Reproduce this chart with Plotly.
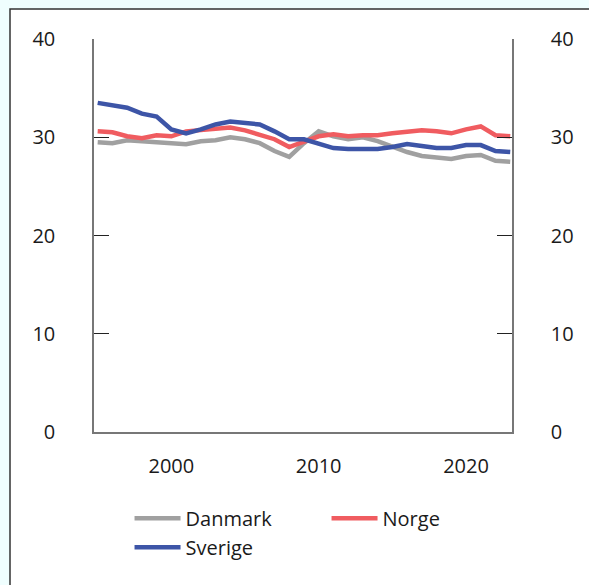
import plotly.graph_objects as go

years = list(range(1995, 2024))
danmark = [29.5, 29.4, 29.7, 29.6, 29.5, 29.3, 29.3, 29.6, 29.7, 30.0, 29.8, 29.4, 28.6, 28.0, 29.4,
           30.6, 30.1, 29.8, 30.0, 29.6, 29.0, 28.5, 28.1, 28.0, 27.8, 28.1, 28.2, 27.6, 27.5]
norge = [30.6, 30.5, 30.1, 29.9, 30.2, 30.1, 30.6, 30.7, 30.9, 31.0, 30.7, 30.3, 29.8, 29.0, 29.6,
         30.1, 30.3, 30.1, 30.2, 30.2, 30.4, 30.6, 30.7, 30.6, 30.4, 30.8, 31.1, 30.2, 30.1]
sverige = [33.5, 33.2, 33.0, 32.4, 32.1, 30.8, 30.4, 30.8, 31.3, 31.6, 31.5, 31.3, 30.6, 29.8, 29.8,
           29.4, 28.9, 28.8, 28.85, 28.8, 29.0, 29.3, 29.1, 28.9, 28.9, 29.2, 29.2, 28.6, 28.5]
y_ticks = [0, 10, 20, 30, 40]
x_ticks = [2000, 2010, 2020]

FONT = "Open Sans"
TXT = "#1a1a1a"

fig = go.Figure()
series = [("Danmark", danmark, "#a0a0a0"), ("Norge", norge, "#f05c60"), ("Sverige", sverige, "#3d55a7")]
for name, vals, col in series:
    fig.add_trace(go.Scatter(x=years, y=vals, name=name, mode="lines",
                             line=dict(color=col, width=4.5)))
fig.add_trace(go.Scatter(x=[None], y=[None], yaxis="y2", showlegend=False, hoverinfo="skip"))

yax = dict(range=[0, 40], tickvals=y_ticks, ticks="inside", ticklen=15, tickwidth=1.2,
           tickcolor="#222", showline=True, linecolor="#777", linewidth=1.5, showgrid=False,
           zeroline=False, tickfont=dict(family=FONT, size=20, color=TXT), ticklabelstandoff=33)

fig.update_layout(
    width=589, height=585,
    margin=dict(l=94, r=77, t=39, b=153, autoexpand=False),
    paper_bgcolor="#effefe", plot_bgcolor="white",
    font=dict(family=FONT, size=20, color=TXT),
    xaxis=dict(range=[1994.75, 2023.12], tickvals=x_ticks, ticks="", showline=True,
               linecolor="#777", linewidth=1.5, showgrid=False, zeroline=False,
               tickfont=dict(family=FONT, size=20, color=TXT), ticklabelstandoff=15),
    yaxis=yax,
    yaxis2=dict(yax, overlaying="y", side="right", anchor="x"),
    legend=dict(orientation="h", x=0.085, xanchor="left", y=-0.17, yanchor="top",
                entrywidth=136, entrywidthmode="pixels", itemwidth=46,
                font=dict(family=FONT, size=20, color=TXT), bgcolor="rgba(0,0,0,0)",
                tracegroupgap=0),
    showlegend=True,
    shapes=[dict(type="rect", xref="paper", yref="paper", x0=(10 - 94) / 418, x1=2.0,
                 y0=-2.0, y1=1 + 30 / 393, fillcolor="white", line=dict(color="#333", width=1.5),
                 layer="below")],
)

fig.write_html("out.html", config={"displayModeBar": False},
               post_script="document.body.style.margin='0';document.body.style.overflow='hidden';")
